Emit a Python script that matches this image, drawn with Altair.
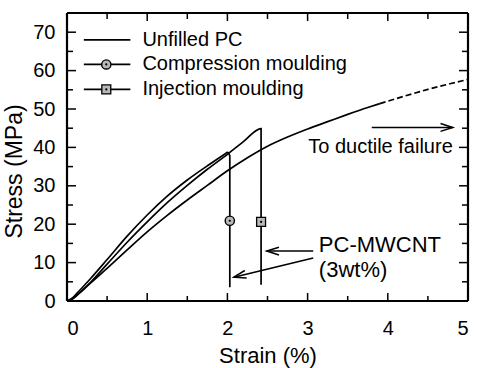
import altair as alt
import pandas as pd
import numpy as np

FONT = "Liberation Sans"
W, H = 401, 288
XMAX, YMAX = 5, 75
FS = 20

# ---- data ----
unf_x = [0, 0.05, 0.15, 0.3, 0.5, 0.75, 1.0, 1.25, 1.5, 1.75, 2.0, 2.25, 2.5, 2.75, 3.0, 3.25, 3.5, 3.75, 3.9]
unf_y = [0, 0.4, 2.0, 4.8, 8.5, 13.3, 18.0, 22.3, 26.3, 30.1, 33.9, 37.3, 40.3, 42.7, 44.8, 46.7, 48.6, 50.4, 51.4]
unf_dash_x = [3.9, 4.2, 4.5, 4.8, 5.0]
unf_dash_y = [51.4, 53.3, 55.1, 56.7, 57.7]

comp_x = [0, 0.05, 0.15, 0.3, 0.5, 0.75, 1.0, 1.25, 1.5, 1.75, 1.97, 2.0, 2.03, 2.03]
comp_y = [0, 0.5, 2.6, 6.0, 10.8, 16.9, 22.4, 27.3, 31.5, 35.2, 38.3, 38.7, 37.8, 3.6]

inj_x = [0, 0.05, 0.15, 0.3, 0.5, 0.75, 1.0, 1.25, 1.5, 1.75, 2.0, 2.2, 2.42, 2.42]
inj_y = [0, 0.3, 2.0, 5.0, 9.6, 15.3, 20.6, 25.6, 30.1, 34.3, 38.2, 41.5, 44.9, 4.2]

comp_marker = (2.03, 20.9)
inj_marker = (2.42, 20.6)

legend_labels = ["Unfilled PC", "Compression moulding", "Injection moulding"]
legend_y = [68.0, 61.6, 55.1]
legend_x0, legend_x1, legend_xm, legend_xt = 0.21, 0.79, 0.49, 0.94

x_major = [0, 1, 2, 3, 4, 5]
x_minor = [0.5, 1.5, 2.5, 3.5, 4.5]
y_major = [0, 10, 20, 30, 40, 50, 60, 70]
y_minor = [5, 15, 25, 35, 45, 55, 65]

ann_texts = ["To ductile failure", "PC-MWCNT", "(3wt%)"]
ann_x = [4.81, 3.14, 3.14]
ann_y = [40.0, 14.5, 8.0]
ann_align = ["right", "left", "left"]
ann_size = [20, 22, 22]

arrows_x0 = [3.80, 3.07, 3.07]
arrows_y0 = [45.2, 13.0, 11.2]
arrows_x1 = [4.81, 2.49, 2.08]
arrows_y1 = [45.2, 13.0, 6.2]

# ---- helpers ----
xs = alt.Scale(domain=[0, XMAX], nice=False, zero=False)
ys = alt.Scale(domain=[0, YMAX], nice=False, zero=False)

axis_x = alt.Axis(values=x_major, ticks=False, domain=False, grid=False,
                  labelFont=FONT, labelFontSize=FS, labelColor="black",
                  labelPadding=17, titleFont=FONT,
                  titleFontSize=22, titleFontWeight="normal", titleColor="black",
                  titleY=61, titleBaseline="alphabetic")
axis_y = alt.Axis(values=y_major, ticks=False, domain=False, grid=False,
                  labelFont=FONT, labelFontSize=FS, labelColor="black",
                  labelPadding=12, titleFont=FONT,
                  titleFontSize=23, titleFontWeight="normal", titleColor="black",
                  titleX=-46, titleY=158, titleAlign="center", titleBaseline="alphabetic")

def XE():
    return alt.X("x:Q", scale=xs, axis=axis_x, title="Strain (%)")

def YE():
    return alt.Y("y:Q", scale=ys, axis=axis_y, title="Stress (MPa)")

def line_df(name, x, y):
    return pd.DataFrame({"s": name, "x": x, "y": y, "o": range(len(x))})

curves = pd.concat([
    line_df("unf", unf_x, unf_y),
    line_df("comp", comp_x, comp_y),
    line_df("inj", inj_x, inj_y),
])

lines = alt.Chart(curves).mark_line(color="black", strokeWidth=1.7, interpolate="monotone").encode(
    x=XE(), y=YE(), detail="s:N", order="o:Q",
)

dash = alt.Chart(pd.DataFrame({"x": unf_dash_x, "y": unf_dash_y})).mark_line(
    color="black", strokeWidth=1.7, strokeDash=[6, 3], interpolate="monotone").encode(x=XE(), y=YE())

circ_df = pd.DataFrame({"x": [comp_marker[0], legend_xm], "y": [comp_marker[1], legend_y[1]]})
sq_df = pd.DataFrame({"x": [inj_marker[0], legend_xm], "y": [inj_marker[1], legend_y[2]]})

circles = alt.Chart(circ_df).mark_point(shape="circle", filled=True, fill="#b8b8b8",
                                         stroke="black", strokeWidth=1.4, size=85, opacity=1).encode(x=XE(), y=YE())
squares = alt.Chart(sq_df).mark_point(shape="square", filled=True, fill="#b8b8b8",
                                       stroke="black", strokeWidth=1.3, size=80, opacity=1).encode(x=XE(), y=YE())
dots = alt.Chart(pd.concat([circ_df, sq_df])).mark_point(shape="circle", filled=True,
                                                          color="black", size=5, opacity=1).encode(x=XE(), y=YE())

leg_lines = alt.Chart(pd.DataFrame({"x": [legend_x0] * 3, "x2": [legend_x1] * 3, "y": legend_y})).mark_rule(
    color="black", strokeWidth=1.7).encode(x=XE(), x2="x2:Q", y=YE())
leg_text = alt.Chart(pd.DataFrame({"x": [legend_xt] * 3, "y": legend_y, "t": legend_labels})).mark_text(
    font=FONT, fontSize=FS, align="left", baseline="middle", color="black").encode(x=XE(), y=YE(), text="t:N")

ann_layers = []
for t, ax, ay, al, fs in zip(ann_texts, ann_x, ann_y, ann_align, ann_size):
    ann_layers.append(alt.Chart(pd.DataFrame({"x": [ax], "y": [ay], "t": [t]})).mark_text(
        font=FONT, fontSize=fs, align=al, baseline="middle", color="black").encode(
        x=XE(), y=YE(), text="t:N"))

arr_df = pd.DataFrame({"x": arrows_x0, "y": arrows_y0, "x2": arrows_x1, "y2": arrows_y1})
arr_lines = alt.Chart(arr_df).mark_rule(color="black", strokeWidth=1.5).encode(
    x=XE(), y=YE(), x2="x2:Q", y2="y2:Q")

heads = []
for x0, y0, x1, y1 in zip(arrows_x0, arrows_y0, arrows_x1, arrows_y1):
    dx = (x1 - x0) * W / XMAX
    dy = -(y1 - y0) * H / YMAX
    ang = float(np.degrees(np.arctan2(dy, dx))) % 360
    heads.append(alt.Chart(pd.DataFrame({"x": [x1], "y": [y1]})).mark_point(
        shape="M -1 -0.32 L 0 0 L -1 0.32", filled=False, stroke="black",
        strokeWidth=1.5, size=600, angle=ang, opacity=1).encode(x=XE(), y=YE()))

def xticks(vals, y0, y1):
    return alt.Chart(pd.DataFrame({"x": vals})).mark_rule(color="black", strokeWidth=1.5).encode(
        x=XE(), y=alt.value(y0), y2=alt.value(y1))

def yticks(vals, x0, x1):
    return alt.Chart(pd.DataFrame({"y": vals})).mark_rule(color="black", strokeWidth=1.5).encode(
        y=YE(), x=alt.value(x0), x2=alt.value(x1))

ticks = [
    xticks(x_major, H, H - 8), xticks(x_minor, H, H - 5),
    xticks(x_major, 0, 8), xticks(x_minor, 0, 6),
    yticks(y_major, 0, 9), yticks(y_minor, 0, 6),
    yticks(y_major, W, W - 9), yticks(y_minor, W, W - 6),
]

frame_src = pd.DataFrame({"k": [0]})
frame = [
    alt.Chart(frame_src).mark_rule(color="black", strokeWidth=2.2).encode(
        x=alt.value(0), x2=alt.value(W), y=alt.value(0)),
    alt.Chart(frame_src).mark_rule(color="black", strokeWidth=2.2).encode(
        x=alt.value(0), x2=alt.value(W), y=alt.value(H)),
    alt.Chart(frame_src).mark_rule(color="black", strokeWidth=2.2).encode(
        x=alt.value(0), y=alt.value(0), y2=alt.value(H)),
    alt.Chart(frame_src).mark_rule(color="black", strokeWidth=2.2).encode(
        x=alt.value(W), y=alt.value(0), y2=alt.value(H)),
]

chart = alt.layer(lines, dash, leg_lines, leg_text, arr_lines, *heads, *ann_layers,
                  circles, squares, dots, *ticks, *frame).properties(
    width=W, height=H,
    padding={"left": 67, "top": 13, "right": 9, "bottom": 67},
    autosize=alt.AutoSizeParams(type="none"),
).configure_view(stroke=None).configure(background="white")

chart.save("out.html", embed_options={"renderer": "svg", "actions": False})
